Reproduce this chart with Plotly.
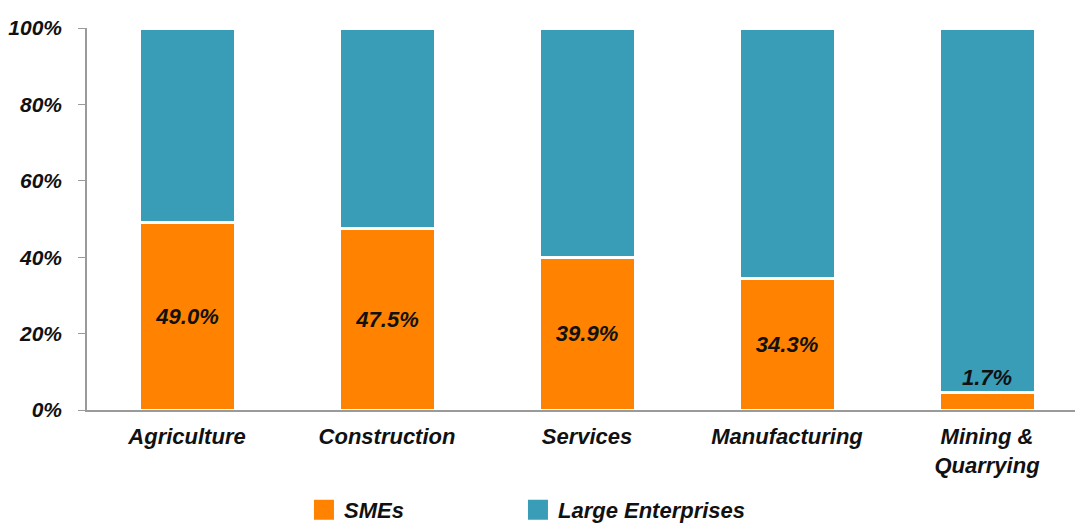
import plotly.graph_objects as go

categories = ["Agriculture", "Construction", "Services", "Manufacturing", "Mining &<br>Quarrying"]
sme_share = [49.0, 47.5, 39.9, 34.3, 4.6]
sme_labels = ["49.0%", "47.5%", "39.9%", "34.3%", "1.7%"]
large_share = [100 - v for v in sme_share]
y_ticks = [0, 20, 40, 60, 80, 100]
y_tick_labels = ["0%", "20%", "40%", "60%", "80%", "100%"]
series_names = ["SMEs", "Large Enterprises"]

ORANGE = "#FF8300"
TEAL = "#3A9DB8"
FAM = "Liberation Sans, Arial, sans-serif"


def font(size):
    return dict(family=FAM, size=size, color="#111111", weight="bold", style="italic")


fig = go.Figure()
fig.add_trace(go.Bar(
    x=categories, y=sme_share, name=series_names[0], showlegend=False,
    marker=dict(color=ORANGE, line=dict(color="white", width=3)),
    text=sme_labels[:4] + [""],
    textposition="inside", insidetextanchor="middle",
    textfont=font(22), width=0.48,
))
fig.add_trace(go.Bar(
    x=categories, y=large_share, name=series_names[1], showlegend=False,
    marker=dict(color=TEAL, line=dict(color="white", width=3)),
    width=0.48, textposition="none",
))
# legend entries with larger square swatches, one legend per entry
for nm, col, lg in zip(series_names, [ORANGE, TEAL], ["legend", "legend2"]):
    fig.add_trace(go.Scatter(
        x=[None], y=[None], mode="markers", name=nm, legend=lg,
        marker=dict(symbol="square", size=16, color=col, line=dict(color=col, width=4)),
    ))
fig.add_annotation(x=categories[4], y=sme_share[4], text=sme_labels[4],
                   showarrow=False, yanchor="bottom", yshift=0, font=font(22))

legend_common = dict(orientation="h", xanchor="left", yref="container",
                     y=0.027, yanchor="middle", font=font(22),
                     itemwidth=30, bgcolor="rgba(0,0,0,0)")

fig.update_layout(
    barmode="stack",
    width=1075, height=524,
    margin=dict(l=87, r=0, t=28, b=114, autoexpand=False),
    plot_bgcolor="white", paper_bgcolor="white",
    font=font(21),
    showlegend=True,
    legend=dict(x=0.2196, **legend_common),
    legend2=dict(x=0.4362, **legend_common),
    xaxis=dict(range=[-0.5, 4.44], showline=True, linecolor="#9a9a9a", linewidth=1.5,
               ticks="", tickfont=font(22), showgrid=False, automargin=False,
               ticklabelstandoff=6),
    yaxis=dict(range=[0, 100], tickvals=y_ticks, ticktext=y_tick_labels,
               showline=True, linecolor="#9a9a9a", linewidth=1.5,
               ticks="outside", ticklen=7, tickcolor="#9a9a9a",
               ticklabelstandoff=12,
               tickfont=font(21), showgrid=False, zeroline=False, automargin=False),
)
fig.write_html("out.html", config={"displayModeBar": False},
               post_script="document.body.style.margin='0';document.body.style.overflow='hidden';")
